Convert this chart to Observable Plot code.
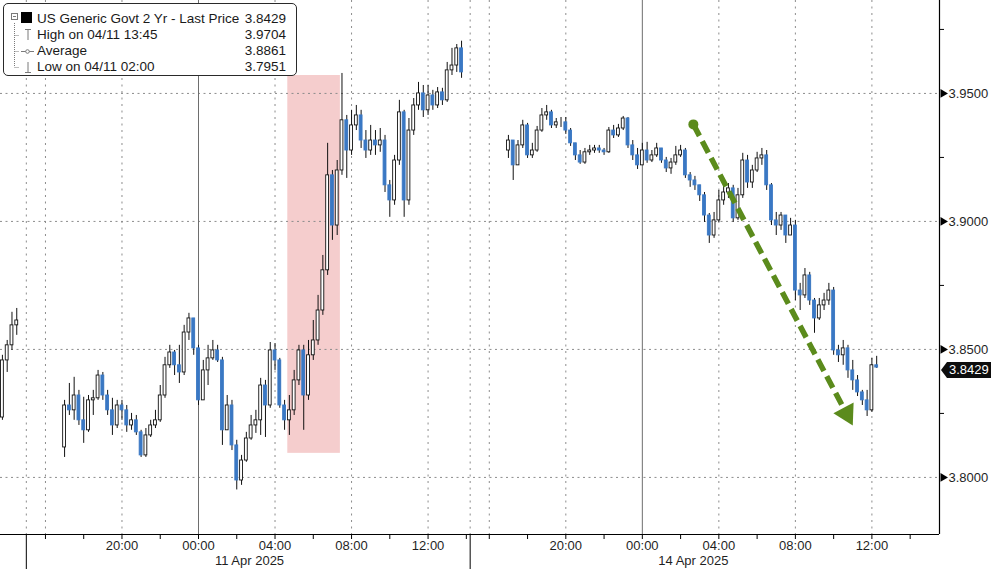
<!DOCTYPE html>
<html>
<head>
<meta charset="utf-8">
<script src="https://cdn.jsdelivr.net/npm/d3@7"></script>
<script src="https://cdn.jsdelivr.net/npm/@observablehq/plot@0.6"></script>
<style>
  html, body { margin: 0; padding: 0; background: #fff; }
  #wrap { position: relative; width: 991px; height: 569px; overflow: hidden;
          font-family: "Liberation Sans", Arial, sans-serif; color: #1a1a1a; }
  #legend { position: absolute; left: 3px; top: 3px; width: 294px; height: 73px;
            border: 1px solid #2a2a2a; border-radius: 5px; background: #fff; box-sizing: border-box; }
  #legend .row { position: absolute; left: 33px; right: 10px; height: 16px; font-size: 13.5px; line-height: 16px; white-space: nowrap; }
  #legend .row .v { position: absolute; right: 0; top: 0; }
  #legend svg { position: absolute; left: 0; top: 0; }
  #tag { position: absolute; left: 941px; width: 50px; height: 16px; background: #0d0d0d; color: #fff;
         font-size: 13px; line-height: 16px; padding-left: 8px; box-sizing: border-box;
         clip-path: polygon(0 50%, 6px 0, 100% 0, 100% 100%, 6px 100%); }
</style>
</head>
<body>
<div id="wrap"></div>
<script>
// ---------------- DATA ----------------
const legendLabels = ["US Generic Govt 2 Yr - Last Price", "High on 04/11 13:45", "Average", "Low on 04/11 02:00"];
const legendValues = [3.8429, 3.9704, 3.8861, 3.7951];
const lastPrice = 3.8429;

const candleMinutes = 15;

// Segment A: 10 Apr afternoon
const segAStart = "2025-04-10T13:45";
const segAOpen = 3.8234;
const segAClose = [3.8457, 3.8516, 3.8594, 3.8613];
const segAHigh  = [3.8477, 3.8535, 3.8645, 3.8660];
const segALow   = [3.8223, 3.8410, 3.8496, 3.8555];

// Segment B: 10 Apr 17:00 -> 11 Apr 13:45
const segBStart = "2025-04-10T17:00";
const segBOpen = 3.8117;
const segBClose = [
  3.8281,3.8262,3.8320,3.8223,3.8184,3.8301,3.8309,3.8398,3.8320,3.8262,
  3.8203,3.8281,3.8262,3.8203,3.8223,3.8176,3.8086,3.8164,3.8203,3.8223,
  3.8320,3.8438,3.8488,3.8438,3.8410,3.8566,3.8621,3.8504,3.8301,3.8418,
  3.8465,3.8496,3.8457,3.8184,3.8281,3.8125,3.7988,3.8066,3.8152,3.8203,
  3.8223,3.8359,3.8281,3.8496,3.8457,3.8281,3.8223,3.8262,3.8379,3.8496,
  3.8320,3.8477,3.8535,3.8652,3.8809,3.9180,3.8984,3.9199,3.9395,3.9277,
  3.9375,3.9414,3.9316,3.9277,3.9316,3.9297,3.9316,3.9141,3.9082,3.9238,
  3.9426,3.9082,3.9355,3.9453,3.9500,3.9434,3.9492,3.9453,3.9504,3.9473,
  3.9590,3.9609,3.9676,3.9582];
const segBHigh = [
  3.8301,3.8367,3.8391,3.8340,3.8313,3.8320,3.8340,3.8418,3.8410,3.8340,
  3.8309,3.8301,3.8301,3.8281,3.8250,3.8242,3.8184,3.8191,3.8223,3.8262,
  3.8359,3.8469,3.8516,3.8496,3.8516,3.8594,3.8641,3.8621,3.8516,3.8457,
  3.8516,3.8535,3.8516,3.8469,3.8320,3.8301,3.8145,3.8086,3.8176,3.8242,
  3.8262,3.8387,3.8379,3.8527,3.8523,3.8465,3.8301,3.8320,3.8418,3.8516,
  3.8516,3.8535,3.8613,3.8711,3.8867,3.9305,3.9199,3.9238,3.9578,3.9414,
  3.9434,3.9453,3.9434,3.9355,3.9375,3.9355,3.9363,3.9336,3.9160,3.9258,
  3.9473,3.9434,3.9402,3.9480,3.9543,3.9531,3.9531,3.9512,3.9523,3.9520,
  3.9621,3.9676,3.9691,3.9704];
const segBLow = [
  3.8078,3.8242,3.8223,3.8203,3.8133,3.8176,3.8242,3.8301,3.8301,3.8242,
  3.8164,3.8191,3.8223,3.8176,3.8184,3.8164,3.8078,3.8078,3.8156,3.8191,
  3.8215,3.8309,3.8426,3.8398,3.8367,3.8398,3.8535,3.8477,3.8281,3.8309,
  3.8359,3.8457,3.8449,3.8125,3.8184,3.8105,3.7951,3.7969,3.8059,3.8145,
  3.8172,3.8164,3.8156,3.8270,3.8418,3.8270,3.8184,3.8164,3.8242,3.8359,
  3.8184,3.8301,3.8457,3.8516,3.8633,3.8789,3.8926,3.8945,3.9180,3.9168,
  3.9258,3.9355,3.9285,3.9246,3.9258,3.9258,3.9270,3.9113,3.9016,3.9063,
  3.9219,3.9016,3.9063,3.9336,3.9434,3.9406,3.9414,3.9434,3.9441,3.9453,
  3.9465,3.9570,3.9582,3.9559];

// Segment C: 13 Apr 17:00 -> 14 Apr 12:15
const segCStart = "2025-04-13T17:00";
const segCOpen = 3.9277;
const segCClose = [
  3.9316,3.9219,3.9297,3.9375,3.9258,3.9277,3.9355,3.9414,3.9426,3.9375,
  3.9387,3.9387,3.9355,3.9305,3.9258,3.9230,3.9270,3.9277,3.9285,3.9277,
  3.9270,3.9355,3.9336,3.9363,3.9402,3.9297,3.9258,3.9219,3.9277,3.9238,
  3.9258,3.9285,3.9238,3.9207,3.9230,3.9258,3.9277,3.9180,3.9160,3.9141,
  3.9102,3.9023,3.8945,3.9004,3.9082,3.9113,3.9129,3.9012,3.9102,3.9238,
  3.9152,3.9199,3.9246,3.9258,3.9141,3.9004,3.8984,3.9023,3.8945,3.8984,
  3.8730,3.8711,3.8789,3.8691,3.8621,3.8672,3.8691,3.8730,3.8496,3.8477,
  3.8504,3.8418,3.8379,3.8332,3.8301,3.8262,3.8438,3.8429];
const segCHigh = [
  3.9336,3.9305,3.9316,3.9395,3.9383,3.9305,3.9371,3.9441,3.9453,3.9434,
  3.9402,3.9406,3.9406,3.9363,3.9297,3.9277,3.9285,3.9297,3.9297,3.9297,
  3.9285,3.9367,3.9375,3.9379,3.9410,3.9406,3.9316,3.9285,3.9305,3.9309,
  3.9277,3.9305,3.9285,3.9250,3.9246,3.9293,3.9297,3.9285,3.9191,3.9176,
  3.9141,3.9113,3.9031,3.9035,3.9121,3.9145,3.9148,3.9141,3.9129,3.9266,
  3.9258,3.9219,3.9270,3.9285,3.9277,3.9148,3.9035,3.9035,3.8973,3.9012,
  3.9004,3.8758,3.8816,3.8801,3.8699,3.8699,3.8719,3.8758,3.8742,3.8516,
  3.8535,3.8516,3.8457,3.8398,3.8340,3.8340,3.8465,3.8473];
const segCLow = [
  3.9246,3.9160,3.9238,3.9285,3.9246,3.9246,3.9270,3.9348,3.9395,3.9363,
  3.9363,3.9367,3.9340,3.9293,3.9238,3.9223,3.9223,3.9258,3.9266,3.9266,
  3.9258,3.9266,3.9324,3.9328,3.9355,3.9285,3.9238,3.9203,3.9219,3.9227,
  3.9230,3.9250,3.9227,3.9191,3.9184,3.9219,3.9250,3.9168,3.9133,3.9121,
  3.9078,3.8996,3.8914,3.8934,3.8996,3.9063,3.9090,3.8996,3.9004,3.9090,
  3.9129,3.9129,3.9191,3.9219,3.9121,3.8984,3.8945,3.8965,3.8914,3.8953,
  3.8691,3.8652,3.8699,3.8672,3.8563,3.8613,3.8652,3.8672,3.8477,3.8449,
  3.8438,3.8387,3.8340,3.8316,3.8281,3.8238,3.8254,3.8426];

// Annotations
const highlight = [{from: "2025-04-11T04:40", to: "2025-04-11T07:25", low: 3.8094, high: 3.9570}];
const trend = {fromT: "2025-04-14T02:40", fromV: 3.9379, toT: "2025-04-14T11:00", toV: 3.8203};

// Axis
const yMajor = [3.80, 3.85, 3.90, 3.95];
const yMinor = [3.825, 3.875, 3.925, 3.975];
const viewStart = "2025-04-10T13:39", viewEnd = "2025-04-14T15:32";
const yDomain = [3.7777, 3.9863];
const sessionBoundaries = ["2025-04-10T15:00", "2025-04-13T15:00"];
const weekendBreak = ["2025-04-11T14:12", "2025-04-13T15:00"];
const tickRanges = [["2025-04-10T16:00", "2025-04-11T14:00"], ["2025-04-13T16:00", "2025-04-14T14:00"]];
const dateLabels = [{t: "2025-04-11T02:40", label: "11 Apr 2025"}, {t: "2025-04-14T02:40", label: "14 Apr 2025"}];

// ---------------- TIME MAPPING (weekend removed) ----------------
const parse = s => new Date(s + ":00Z");
const ORIGIN = parse("2025-04-11T00:00");
const BRK0 = parse(weekendBreak[0]), BRK1 = parse(weekendBreak[1]);
const gapH = (BRK1 - BRK0) / 3.6e6;
function toU(d) { let h = (d - ORIGIN) / 3.6e6; if (d >= BRK1) h -= gapH; return h; }

function build(start, open0, closes, highs, lows) {
  const t0 = parse(start);
  return closes.map((c, i) => {
    const t = new Date(+t0 + i * candleMinutes * 60000);
    const o = i ? closes[i - 1] : open0;
    return {u: toU(t), open: o, close: c, high: Math.max(highs[i], o, c), low: Math.min(lows[i], o, c)};
  });
}
const candles = [
  ...build(segAStart, segAOpen, segAClose, segAHigh, segALow),
  ...build(segBStart, segBOpen, segBClose, segBHigh, segBLow),
  ...build(segCStart, segCOpen, segCClose, segCHigh, segCLow)
];
const upC = candles.filter(d => d.close >= d.open);
const dnC = candles.filter(d => d.close < d.open);
const hw = 0.075;

const xDomain = [toU(parse(viewStart)), toU(parse(viewEnd))];
const W = 991, H = 569, mR = 52, mB = 35;

// ticks
let minorU = [], gridU = [], midnightU = [], labelU = [], labelMap = new Map();
for (const [a, b] of tickRanges) {
  for (const t of d3.utcHour.every(2).range(parse(a), new Date(+parse(b) + 1))) {
    const u = toU(t);
    minorU.push(u);
    const h = t.getUTCHours();
    if (h % 4 === 0) {
      if (h === 0) midnightU.push(u); else gridU.push(u);
      if (h !== 16) { labelU.push(u); labelMap.set(u, d3.utcFormat("%H:%M")(t)); }
    }
  }
}
const boundaryU = [toU(parse(sessionBoundaries[0])), toU(BRK0)];

// arrow geometry via the plot's own scales
const xS = Plot.scale({x: {type: "linear", domain: xDomain, range: [0, W - mR]}});
const yS = Plot.scale({y: {type: "linear", domain: yDomain, range: [H - mB, 0]}});
const p0 = [xS.apply(toU(parse(trend.fromT))), yS.apply(trend.fromV)];
const p1 = [xS.apply(toU(parse(trend.toT))), yS.apply(trend.toV)];
const L = Math.hypot(p1[0] - p0[0], p1[1] - p0[1]);
const dir = [(p1[0] - p0[0]) / L, (p1[1] - p0[1]) / L];
const angle = Math.atan2(dir[0], -dir[1]) * 180 / Math.PI;
const headR = 8.5;
const triY = Math.sqrt(Math.PI * headR * headR / (3 * Math.sqrt(3)));
const headC = [p1[0] - 2 * triY * dir[0], p1[1] - 2 * triY * dir[1]];
const shaftEnd = [p1[0] - (3 * triY - 2) * dir[0], p1[1] - (3 * triY - 2) * dir[1]];
const arrowShaft = [{x1: toU(parse(trend.fromT)), y1: trend.fromV, x2: xS.invert(shaftEnd[0]), y2: yS.invert(shaftEnd[1])}];
const arrowHead = [{x: xS.invert(headC[0]), y: yS.invert(headC[1])}];

const GREEN = "#5b8b1c", BLUE = "#3a78c4", INK = "#1f1f1f";

const chart = Plot.plot({
  width: W, height: H,
  marginLeft: 0, marginRight: mR, marginTop: 0, marginBottom: mB,
  x: {type: "linear", domain: xDomain, axis: null},
  y: {type: "linear", domain: yDomain, axis: null},
  style: {fontFamily: '"Liberation Sans", Arial, sans-serif', fontSize: "13px", background: "#fff", color: INK, overflow: "visible"},
  marks: [
    Plot.rect(highlight, {x1: d => toU(parse(d.from)), x2: d => toU(parse(d.to)), y1: "low", y2: "high", fill: "#f5cdcd"}),
    Plot.ruleY(yMajor, {stroke: "#8c8c8c", strokeDasharray: "2,3.5"}),
    Plot.ruleX([...gridU, ...boundaryU], {stroke: "#8c8c8c", strokeDasharray: "2,4.5"}),
    Plot.ruleX(midnightU, {stroke: "#6e6e6e", strokeWidth: 1}),
    Plot.ruleX(candles, {x: "u", y1: "low", y2: "high", stroke: "#111", strokeWidth: 1}),
    Plot.rect(dnC, {x1: d => d.u - hw, x2: d => d.u + hw, y1: "open", y2: "close", fill: BLUE, stroke: BLUE, strokeWidth: 0.9}),
    Plot.rect(upC, {x1: d => d.u - hw, x2: d => d.u + hw, y1: "open", y2: "close", fill: "#fff", stroke: "#111", strokeWidth: 0.9}),
    // trend arrow
    Plot.link(arrowShaft, {x1: "x1", y1: "y1", x2: "x2", y2: "y2", stroke: GREEN, strokeWidth: 5.5, strokeDasharray: "13,6"}),
    Plot.dot([trend], {x: d => toU(parse(d.fromT)), y: "fromV", r: 5, fill: GREEN}),
    Plot.dot(arrowHead, {x: "x", y: "y", r: headR, symbol: "triangle", rotate: angle, fill: GREEN, stroke: "none"}),
    // axes lines
    Plot.ruleY([yDomain[0]], {stroke: "#000", strokeWidth: 1.2}),
    Plot.ruleX([xDomain[1]], {stroke: "#000", strokeWidth: 1.2}),
    // right axis
    Plot.axisY({anchor: "right", ticks: yMajor, tickSize: 0, tickPadding: 9, tickFormat: d => d.toFixed(4), fontSize: 13, fill: INK, label: null}),
    Plot.axisY({anchor: "right", ticks: yMinor, tickSize: 4, tickFormat: () => "", stroke: "#000", label: null}),
    Plot.dot(yMajor, {x: () => xDomain[1], y: d => d, symbol: "triangle", rotate: 90, r: 3.2, fill: "#000", dx: 3.5}),
    // bottom axis
    Plot.axisX({ticks: minorU, tickSize: 5, tickFormat: () => "", stroke: "#000", label: null}),
    Plot.axisX({ticks: boundaryU, tickSize: 36, tickFormat: () => "", stroke: "#000", label: null}),
    Plot.axisX({ticks: labelU, tickSize: 0, tickPadding: 6, tickFormat: u => labelMap.get(u), fontSize: 13, fill: INK, label: null}),
    Plot.text(dateLabels, {x: d => toU(parse(d.t)), y: () => yDomain[0], dy: 26, text: "label", fontSize: 13, fill: INK})
  ]
});

const wrap = document.getElementById("wrap");
wrap.appendChild(chart);

// legend (overlay)
const legend = document.createElement("div");
legend.id = "legend";
const rowTops = [7, 23, 39, 55];
legend.innerHTML = `
<svg width="40" height="72">
  <g stroke="#7a7a7a" fill="none" stroke-width="1">
    <line x1="10.5" y1="19" x2="10.5" y2="63" stroke-dasharray="1,1"/>
    <line x1="10.5" y1="31.5" x2="15" y2="31.5" stroke-dasharray="1,1"/>
    <line x1="10.5" y1="47.5" x2="15" y2="47.5" stroke-dasharray="1,1"/>
    <line x1="10.5" y1="63.5" x2="15" y2="63.5" stroke-dasharray="1,1"/>
    <rect x="7.5" y="9.5" width="6" height="6" fill="#fff"/>
    <line x1="9" y1="12.5" x2="12" y2="12.5"/>
    <line x1="21" y1="25.5" x2="27" y2="25.5"/>
    <line x1="24" y1="25.5" x2="24" y2="36"/>
    <line x1="17" y1="47.5" x2="30" y2="47.5"/>
    <circle cx="23.5" cy="47.5" r="1.8" fill="#fff"/>
    <line x1="24" y1="58" x2="24" y2="68.5"/>
    <line x1="21" y1="68.5" x2="27" y2="68.5"/>
  </g>
  <rect x="17" y="8" width="11" height="11" fill="#000"/>
</svg>`;
legendLabels.forEach((lab, i) => {
  const r = document.createElement("div");
  r.className = "row";
  r.style.top = rowTops[i] + "px";
  r.textContent = lab;
  const v = document.createElement("span");
  v.className = "v";
  v.textContent = legendValues[i].toFixed(4);
  r.appendChild(v);
  legend.appendChild(r);
});
wrap.appendChild(legend);

// last price tag, positioned with the plot's y scale
const tag = document.createElement("div");
tag.id = "tag";
tag.textContent = lastPrice.toFixed(4);
tag.style.top = (chart.scale("y").apply(lastPrice) + 3 - 8) + "px";
wrap.appendChild(tag);
</script>
</body>
</html>
